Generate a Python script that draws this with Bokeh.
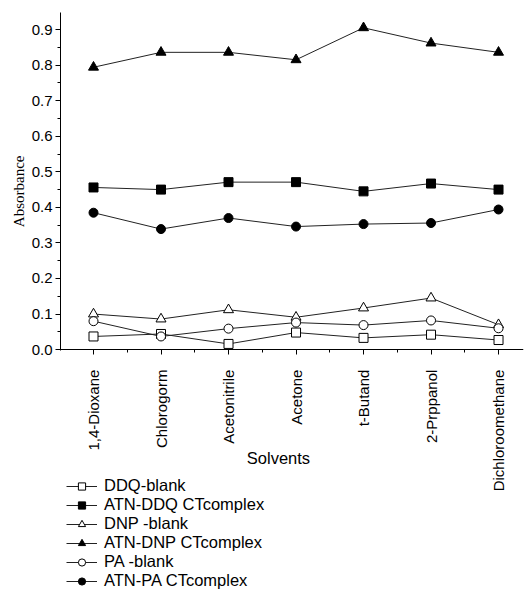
import math
from bokeh.plotting import figure
from bokeh.models import (FixedTicker, Range1d, Label, Legend, LegendItem,
                          LinearAxis, Title)
from bokeh.embed import file_html
from bokeh.resources import INLINE

# ---- data ----
solvents = ["1,4-Dioxane", "Chlorogorm", "Acetonitrile", "Acetone",
            "t-Butand", "2-Prppanol", "Dichloroomethane"]
x_pos = [1, 2, 3, 4, 5, 6, 7]
ddq_blank = [0.037, 0.044, 0.016, 0.048, 0.033, 0.042, 0.027]
atn_ddq = [0.456, 0.450, 0.471, 0.471, 0.445, 0.467, 0.450]
dnp_blank = [0.100, 0.086, 0.112, 0.091, 0.117, 0.145, 0.070]
atn_dnp = [0.794, 0.836, 0.836, 0.815, 0.905, 0.862, 0.836]
pa_blank = [0.080, 0.037, 0.059, 0.076, 0.069, 0.082, 0.060]
atn_pa = [0.385, 0.339, 0.370, 0.346, 0.353, 0.356, 0.394]
y_ticks = [0.0, 0.1, 0.2, 0.3, 0.4, 0.5, 0.6, 0.7, 0.8, 0.9]
y_minor = [0.05, 0.15, 0.25, 0.35, 0.45, 0.55, 0.65, 0.75, 0.85]
x_minor = [1.5, 2.5, 3.5, 4.5, 5.5, 6.5]

series = [
    ("DDQ-blank", ddq_blank, "square", "white", 9),
    ("ATN-DDQ CTcomplex", atn_ddq, "square", "black", 9),
    ("DNP -blank", dnp_blank, "triangle", "white", 10),
    ("ATN-DNP CTcomplex", atn_dnp, "triangle", "black", 10),
    ("PA -blank", pa_blank, "circle", "white", 9),
    ("ATN-PA CTcomplex", atn_pa, "circle", "black", 9),
]

SANS = "Liberation Sans"
SERIF = "Liberation Serif"
Y_TOP = 0.948
Y_BOTTOM = -0.683   # frame reaches down to the legend area

p = figure(width=524, height=592, output_backend="svg", toolbar_location=None,
           title=None, x_axis_location=None,
           x_range=Range1d(0.511, 7.37), y_range=Range1d(Y_BOTTOM, Y_TOP),
           min_border_left=60, min_border_right=1, min_border_top=12,
           min_border_bottom=0)
p.outline_line_color = None
p.grid.visible = False
p.background_fill_color = "white"
p.border_fill_color = "white"

items = []
for name, vals, marker, fill, size in series:
    lr = p.line(x_pos, vals, line_color="#222222", line_width=1)
    sr = p.scatter(x_pos, vals, marker=marker, size=size, fill_color=fill,
                   line_color="black", line_width=1)
    items.append(LegendItem(label=name, renderers=[lr, sr]))

# x axis drawn at y = 0 (ticks pointing down)
xa = LinearAxis(fixed_location=0)
xa.ticker = FixedTicker(ticks=x_pos, minor_ticks=x_minor)
xa.major_label_overrides = {x: "" for x in x_pos}
xa.major_label_text_color = None
xa.major_label_text_font_size = "1px"
xa.major_label_standoff = 0
xa.major_tick_out = 0
xa.major_tick_in = 5
xa.minor_tick_out = 0
xa.minor_tick_in = 3
xa.axis_line_color = "black"
p.add_layout(xa, "above")

# category labels under the x axis
p.text(x=x_pos, y=[0] * len(x_pos), text=solvents, angle=math.pi / 2,
       text_align="right", text_baseline="middle", y_offset=20,
       text_font={"value": SANS}, text_font_size="15px", text_color="black")

ya = p.yaxis[0]
ya.bounds = (-0.002, Y_TOP)
ya.ticker = FixedTicker(ticks=y_ticks, minor_ticks=y_minor)
ya.major_label_overrides = {v: f"{v:.1f}" for v in y_ticks}
ya.major_label_text_font = SANS
ya.major_label_text_font_size = "15px"
ya.major_label_text_color = "black"
ya.major_label_standoff = 3
ya.major_tick_out = 5
ya.major_tick_in = 0
ya.minor_tick_out = 3
ya.minor_tick_in = 0
ya.axis_line_color = "black"

# y-axis title
p.add_layout(Title(text="Absorbance", align="right", offset=143, standoff=4,
                   text_font=SERIF, text_font_size="15px",
                   text_font_style="normal", text_color="black"), "left")

# x-axis title
p.add_layout(Label(x=3.74, y=-0.304, text="Solvents", text_align="center",
                   text_baseline="middle", text_font=SANS,
                   text_font_size="16.5px", text_color="black"))

legend = Legend(items=items, location=(6, 2), orientation="vertical",
                label_text_font=SANS, label_text_font_size="16.5px",
                label_text_color="black", label_height=18, glyph_height=18,
                glyph_width=31, label_standoff=7, spacing=0, padding=0,
                margin=0, background_fill_alpha=0, border_line_alpha=0)
p.add_layout(legend)

open("out.html", "w").write(file_html(p, INLINE))
